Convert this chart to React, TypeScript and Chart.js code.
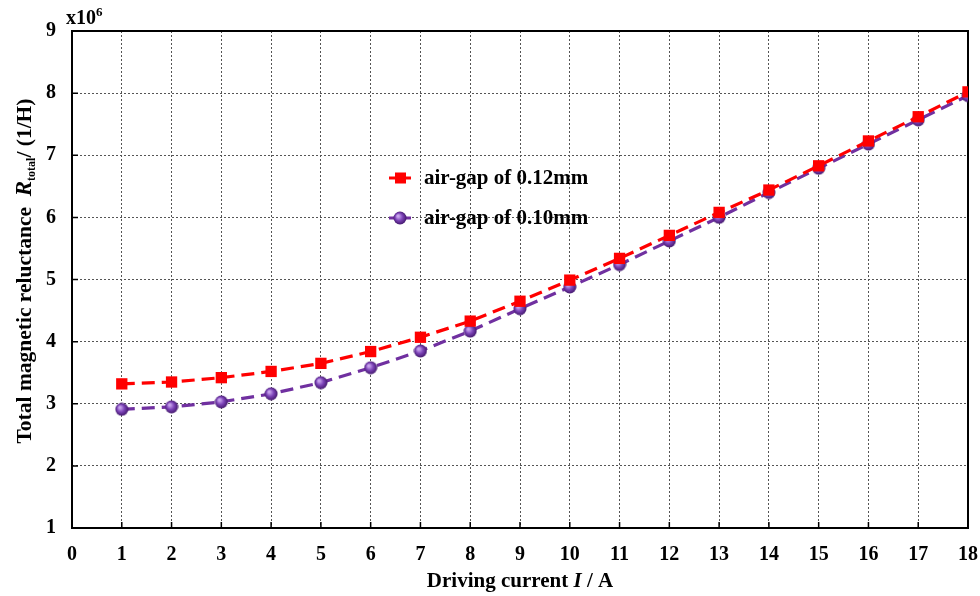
import React, { useEffect, useRef } from "react";
import { Chart, registerables } from "chart.js";

Chart.register(...registerables);

// Driving current (A) and total magnetic reluctance (x10^6 1/H)
const current = [1, 2, 3, 4, 5, 6, 7, 8, 9, 10, 11, 12, 13, 14, 15, 16, 17, 18];
const gap012 = [3.32, 3.35, 3.42, 3.52, 3.65, 3.84, 4.07, 4.33, 4.65, 4.99, 5.34, 5.71, 6.08, 6.44, 6.83, 7.23, 7.62, 8.02];
const gap010 = [2.91, 2.95, 3.03, 3.16, 3.34, 3.58, 3.85, 4.17, 4.53, 4.88, 5.24, 5.62, 6.0, 6.4, 6.79, 7.18, 7.57, 7.96];
const seriesLabels = ["air-gap of 0.12mm", "air-gap of 0.10mm"];

const SERIF = '"Liberation Serif", "Times New Roman", serif';
const RED = "#ff0000";
const PURPLE = "#7030a0";

function makeSphere(): HTMLCanvasElement {
  const c = document.createElement("canvas");
  c.width = 14;
  c.height = 14;
  const g = c.getContext("2d")!;
  const grad = g.createRadialGradient(5, 5, 1, 7, 7, 7);
  grad.addColorStop(0, "#c7a3ec");
  grad.addColorStop(0.45, "#7d44b8");
  grad.addColorStop(1, "#3c1263");
  g.fillStyle = grad;
  g.beginPath();
  g.arc(7, 7, 6.5, 0, Math.PI * 2);
  g.fill();
  return c;
}

// Draws runs of text with individual fonts and baseline shifts
type Run = { text: string; font: string; dy?: number };
function runsWidth(ctx: CanvasRenderingContext2D, runs: Run[]) {
  let w = 0;
  for (const r of runs) {
    ctx.font = r.font;
    w += ctx.measureText(r.text).width;
  }
  return w;
}
function drawRuns(ctx: CanvasRenderingContext2D, runs: Run[], x: number, y: number) {
  let cx = x;
  for (const r of runs) {
    ctx.font = r.font;
    ctx.fillText(r.text, cx, y + (r.dy || 0));
    cx += ctx.measureText(r.text).width;
  }
}

const decorPlugin = {
  id: "decor",
  beforeDatasetsDraw(chart: any) {
    const { ctx, chartArea: a, scales } = chart;
    ctx.save();
    ctx.strokeStyle = "#000";
    ctx.lineWidth = 1.5;
    // inward tick marks
    ctx.beginPath();
    for (let v = 1; v < 18; v++) {
      const x = scales.x.getPixelForValue(v);
      ctx.moveTo(x, a.bottom);
      ctx.lineTo(x, a.bottom - 6);
    }
    for (let v = 2; v < 9; v++) {
      const y = scales.y.getPixelForValue(v);
      ctx.moveTo(a.left, y);
      ctx.lineTo(a.left + 6, y);
    }
    ctx.stroke();
    // frame
    ctx.lineWidth = 2;
    ctx.strokeRect(a.left, a.top, a.right - a.left, a.bottom - a.top);
    ctx.restore();
  },
  afterDraw(chart: any) {
    const { ctx, chartArea: a } = chart;
    ctx.save();
    ctx.fillStyle = "#000";
    ctx.textBaseline = "alphabetic";

    // exponent label
    drawRuns(
      ctx,
      [
        { text: "x10", font: `bold 20px ${SERIF}` },
        { text: "6", font: `bold 13px ${SERIF}`, dy: -8 },
      ],
      a.left - 6,
      a.top - 7
    );

    // x-axis title
    const xRuns: Run[] = [
      { text: "Driving current ", font: `bold 21px ${SERIF}` },
      { text: "I", font: `italic bold 21px ${SERIF}` },
      { text: " / A", font: `bold 21px ${SERIF}` },
    ];
    const xw = runsWidth(ctx, xRuns);
    drawRuns(ctx, xRuns, (a.left + a.right) / 2 - xw / 2, 587);

    // y-axis title
    const yRuns: Run[] = [
      { text: "Total magnetic reluctance  ", font: `bold 21.5px ${SERIF}` },
      { text: "R", font: `italic bold 23px ${SERIF}` },
      { text: "total", font: `bold 12px ${SERIF}`, dy: 4 },
      { text: "/ (1/H)", font: `bold 21.5px ${SERIF}` },
    ];
    const yw = runsWidth(ctx, yRuns);
    ctx.save();
    ctx.translate(31, 271);
    ctx.rotate(-Math.PI / 2);
    drawRuns(ctx, yRuns, -yw / 2, 0);
    ctx.restore();

    // legend
    const items = [
      { y: 178, color: RED, marker: "rect" },
      { y: 218, color: PURPLE, marker: "sphere" },
    ];
    items.forEach((it, i) => {
      ctx.strokeStyle = it.color;
      ctx.lineWidth = 3;
      ctx.beginPath();
      ctx.moveTo(389, it.y);
      ctx.lineTo(411, it.y);
      ctx.stroke();
      if (it.marker === "rect") {
        ctx.fillStyle = it.color;
        ctx.fillRect(395, it.y - 5.5, 11, 11);
      } else {
        ctx.drawImage(sphere, 393, it.y - 7);
      }
      ctx.fillStyle = "#000";
      ctx.font = `bold 21px ${SERIF}`;
      ctx.textBaseline = "middle";
      ctx.fillText(seriesLabels[i], 424, it.y + 1);
    });
    ctx.restore();
  },
};

let sphere: HTMLCanvasElement;

export default function App() {
  const ref = useRef<HTMLCanvasElement>(null);

  useEffect(() => {
    if (!ref.current) return;
    sphere = makeSphere();
    const chart = new Chart(ref.current, {
      type: "line",
      data: {
        datasets: [
          {
            label: seriesLabels[0],
            data: current.map((x, i) => ({ x, y: gap012[i] })),
            borderColor: RED,
            backgroundColor: RED,
            borderWidth: 3.2,
            borderDash: [13, 7],
            pointStyle: "rect",
            pointRadius: 8,
            pointBorderWidth: 0,
            pointBackgroundColor: RED,
          },
          {
            label: seriesLabels[1],
            data: current.map((x, i) => ({ x, y: gap010[i] })),
            borderColor: PURPLE,
            backgroundColor: PURPLE,
            borderWidth: 3.2,
            borderDash: [13, 7],
            pointStyle: sphere,
            pointRadius: 7,
            pointBorderWidth: 0,
          },
        ],
      },
      options: {
        responsive: false,
        animation: false,
        layout: { padding: { top: 31, right: 12, left: 0, bottom: 0 } },
        plugins: { legend: { display: false }, tooltip: { enabled: false } },
        scales: {
          x: {
            type: "linear",
            min: 0,
            max: 18,
            afterFit: (s: any) => {
              s.height = 68;
              s.paddingLeft = 0;
              s.paddingRight = 0;
            },
            ticks: {
              stepSize: 1,
              padding: 15,
              color: "#000",
              font: { family: SERIF, size: 20, weight: "bold" },
            },
            grid: { color: "#555", lineWidth: 1, drawTicks: false },
            border: { display: false, dash: [2, 2] },
          },
          y: {
            type: "linear",
            min: 1,
            max: 9,
            afterFit: (s: any) => {
              s.width = 72;
              s.paddingTop = 0;
              s.paddingBottom = 0;
            },
            ticks: {
              stepSize: 1,
              padding: 16,
              color: "#000",
              font: { family: SERIF, size: 20, weight: "bold" },
            },
            grid: { color: "#555", lineWidth: 1, drawTicks: false },
            border: { display: false, dash: [2, 2] },
          },
        },
      },
      plugins: [decorPlugin],
    });
    return () => chart.destroy();
  }, []);

  return (
    <div style={{ position: "fixed", left: 0, top: 0, width: 980, height: 596, background: "#fff" }}>
      <canvas ref={ref} width={980} height={596} style={{ display: "block" }} />
    </div>
  );
}
